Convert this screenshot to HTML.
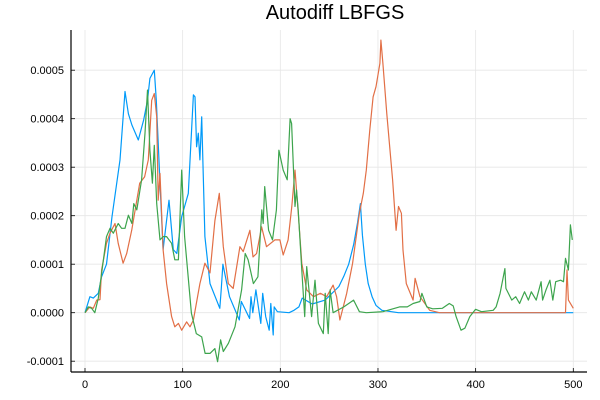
<!DOCTYPE html>
<html><head><meta charset="utf-8"><style>
body{margin:0;background:#fff}
svg{display:block;font-family:"Liberation Sans",sans-serif}
</style></head><body>
<svg id="chart" width="600" height="400">
<text x="335" y="19" text-anchor="middle" font-size="20" fill="#000">Autodiff LBFGS</text>
<g id="grid"></g><g id="series"></g><g id="axes"></g>
</svg>
<script>
const xTicks=[0,100,200,300,400,500];
const yTicks=[-1,0,1,2,3,4,5];
const yTickLabels=["-0.0001","0.0000","0.0001","0.0002","0.0003","0.0004","0.0005"];
const seriesNames=["series-blue","series-orange","series-green"];
const blueX=[0,5,8.5,13.6,17,22,27.6,35.8,41,44.4,48,54.6,60,64,66.5,71,73,76.8,80,86,90.4,94,99,105.8,111,112.6,114.3,116,117.7,119.5,122.8,128,138,139.5,141.2,148,158,160,168.5,170,171.8,175,180,182,185,188.6,190.3,192.7,193.7,197,209,214,219,222.4,232.6,246,260,265,270,275,279,282,284,287,290,294,298,304,321,500];
const blueY=[0,0.33,0.3,0.4,0.74,1.0,1.98,3.15,4.56,4.1,3.87,3.56,3.97,4.38,4.83,5.0,4.38,2.67,1.3,2.32,1.3,1.22,1.98,2.46,4.49,4.45,3.42,3.7,3.15,4.04,1.57,0.6,0.09,0.47,1.0,0.33,-0.15,0.23,-0.12,0.33,0,0.47,-0.22,0.4,-0.08,-0.36,0.19,-0.46,0.12,0.02,0,0.05,0.12,0.3,0.18,0.26,0.54,0.75,1.0,1.4,1.85,2.25,1.6,1.0,0.6,0.33,0.15,0.05,0,0];
const orangeX=[0,5,8.5,12,15.4,17,22,25.6,30.7,34,39,42.7,47.8,56,61,64.8,68.3,71,73.4,75,76.8,80,83.6,88.7,92,95.6,99,104,107.5,111,117.7,122.8,128,133,137.5,141.6,146.7,151.8,158.6,162,168.9,172,175.7,180.8,185.9,194.5,199.6,203,208,211.8,215,218.6,222,227,234,241,247.5,254,257.6,261,268,274,281,285,288,291.6,295,298,302,303,305,309,312,315,318.6,321,324,325.6,329,336,338,343,353,363,492,493.5,495,500];
const orangeY=[0,0.12,0.09,0.26,0.27,0.88,1.43,1.64,1.84,1.43,1.02,1.22,1.7,2.67,2.8,3.15,4.38,4.52,4.04,2.32,2.87,1.3,0.6,-0.08,-0.29,-0.22,-0.36,-0.19,-0.29,-0.15,0.6,1.02,0.82,1.9,2.46,1.36,0.6,0.5,1.36,1.26,1.7,1.15,1.22,1.77,1.36,1.5,1.5,1.19,1.5,2.19,2.94,1.98,1.02,0.47,0.33,0.4,0.33,0.57,0.33,-0.15,0.4,1.02,2.05,2.46,2.94,3.77,4.45,4.66,5.14,5.62,5.14,4.1,3.42,2.74,1.7,2.19,2.05,1.29,0.6,0.26,0.71,0.33,0.05,0,0,0.88,0.26,0.09];
const greenX=[0,3.4,6.8,10,13.6,17,22,25.6,29,34,37.5,41,44.4,48,50,53,58,61.4,64,66.5,69,71,73.4,76.8,80,83.6,88.7,92,95.6,99,102,109,114,119.5,123,128,133,135.8,138.9,141.6,146.8,153.6,160.4,164,167,172.4,177,181,182.5,184,188,192,196,198.5,203,207,210,211.5,215,216.6,218.3,222,225,227,232,235.5,239,244,246,249,251,254,265,275,281,288,305,322,330,336,343,345,350,356,366,373,377,380,385,389,394,400,406,418,421,425,430,431,437,441,445,450,454,457,462,467,468.6,472,476,479,482,487,490,492,495,497,499];
const greenY=[0,0.12,0.09,0,0.3,0.81,1.57,1.74,1.64,1.84,1.74,1.74,2.01,1.84,2.25,2.12,2.74,3.7,4.59,3.35,2.67,3.45,2.25,1.5,1.57,1.57,1.43,1.09,1.09,2.94,1.57,-0.01,-0.43,-0.5,-0.84,-0.84,-0.74,-1.01,-0.56,-0.8,-0.63,-0.29,0.47,1.22,1.09,0.6,0.74,2.12,1.84,2.6,1.7,1.5,2.12,3.35,2.94,2.74,4.0,3.9,2.19,2.53,2.12,0.88,-0.08,0.95,-0.08,0.67,-0.22,-0.43,0.4,-0.43,0.47,0,0.12,0.26,0.02,0,0.02,0.12,0.12,0.19,0.23,0.4,0.12,0.08,0.09,0.19,0.14,-0.08,-0.36,-0.32,-0.08,0.07,0.02,0.05,0.12,0.4,0.91,0.5,0.26,0.33,0.19,0.43,0.26,0.43,0.26,0.64,0.26,0.47,0.67,0.26,0.64,0.67,0.64,1.12,0.88,1.81,1.5];
const NS="http://www.w3.org/2000/svg";
const L=71,R=587,T=30,B=372;
function sx(v){return 85+v*0.9766;}
function sy(v){return 312.7-v*48.5;}
function mk(tag,attrs,parent){const e=document.createElementNS(NS,tag);for(const k in attrs)e.setAttribute(k,attrs[k]);parent.appendChild(e);return e;}
const grid=document.getElementById('grid'),axes=document.getElementById('axes'),ser=document.getElementById('series');
xTicks.forEach(t=>{
 const g=mk('line',{x1:sx(t),x2:sx(t),y1:T,y2:B,stroke:'#e6e6e6','stroke-width':0.8},grid);
 
 
 const tk=mk('line',{x1:sx(t),x2:sx(t),y1:B,y2:B-4,stroke:'#000','stroke-width':0.8},axes);
 
 
 const lb=mk('text',{x:sx(t),y:388,'text-anchor':'middle','font-size':11,fill:'#000'},axes);
 lb.textContent=t;
 
 
});
yTicks.forEach((t,i)=>{
 const g=mk('line',{x1:L,x2:R,y1:sy(t),y2:sy(t),stroke:'#e6e6e6','stroke-width':0.8},grid);
 
 
 const tk=mk('line',{x1:L,x2:L+4,y1:sy(t),y2:sy(t),stroke:'#000','stroke-width':0.8},axes);
 
 
 const lb=mk('text',{x:64,y:sy(t)+4,'text-anchor':'end','font-size':11,fill:'#000'},axes);
 lb.textContent=yTickLabels[i];
 
 
});
const xa=mk('line',{x1:L,x2:R,y1:B,y2:B,stroke:'#000','stroke-width':1.2},axes);


const ya=mk('line',{x1:L,x2:L,y1:T,y2:B,stroke:'#000','stroke-width':1.2},axes);


const all=[[blueX,blueY,'#009af9'],[orangeX,orangeY,'#e26f46'],[greenX,greenY,'#3da44d']];
all.forEach((s,i)=>{
 const d=s[0].map((x,j)=>(j?'L':'M')+sx(x).toFixed(1)+' '+sy(s[1][j]).toFixed(1)).join(' ');
 const p=mk('path',{d:d,fill:'none',stroke:s[2],'stroke-width':1.2,'stroke-linejoin':'round'},ser);
 
 
});
</script>
</body></html>
